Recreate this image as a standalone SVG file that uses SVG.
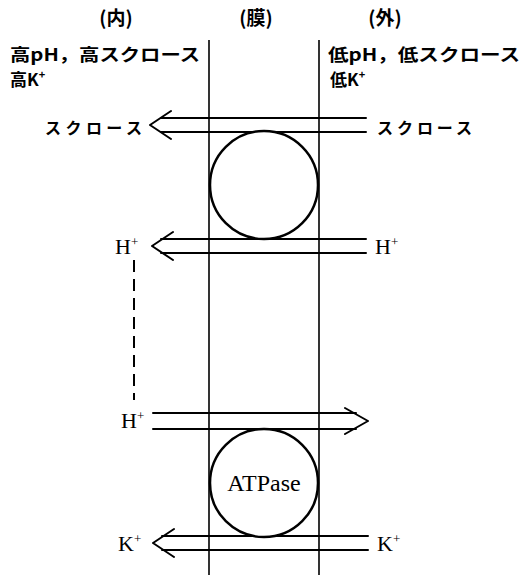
<svg xmlns="http://www.w3.org/2000/svg" width="523" height="575" viewBox="0 0 523 575">
<style>
.t{font-family:"Liberation Serif","Noto Sans CJK JP",serif;fill:#000}
.j{font-family:"Noto Sans CJK JP","Liberation Serif",sans-serif;font-weight:bold;fill:#000}
.ln{stroke:#000;stroke-width:1.6;fill:none}
.ar{stroke:#000;stroke-width:2;fill:none;stroke-linecap:round;stroke-linejoin:round}
.c{stroke:#000;stroke-width:2.5;fill:#fff}
</style>
<rect width="523" height="575" fill="#fff"/>
<g id="headers">
<text class="j" x="116" y="25" font-size="19" text-anchor="middle">(内)</text>
<text class="j" x="256" y="25" font-size="19" text-anchor="middle">(膜)</text>
<text class="j" x="385" y="25" font-size="19" text-anchor="middle">(外)</text>
</g>
<g id="inner-labels">
<text class="j" x="10" y="61" font-size="17" textLength="190" lengthAdjust="spacingAndGlyphs">高pH，高スクロース</text>
<text class="j" x="10" y="86" font-size="17">高K<tspan font-size="11" dy="-7">+</tspan></text>
</g>
<g id="outer-labels">
<text class="j" x="328" y="61" font-size="17" textLength="192" lengthAdjust="spacingAndGlyphs">低pH，低スクロース</text>
<text class="j" x="330" y="86" font-size="17">低K<tspan font-size="11" dy="-7">+</tspan></text>
</g>
<g id="membrane">
<line class="ln" x1="209" y1="40" x2="209" y2="575"/>
<line class="ln" x1="319" y1="40" x2="319" y2="575"/>
</g>
<g id="connectors">
<path class="ar" d="M161,118 H366 M161,132 H366 M171,111 L150,125 L171,139"/>
<path class="ar" d="M161,239 H366 M161,253 H366 M173,232 L152,246 L173,260"/>
<path class="ar" d="M153,413 H356 M153,429 H356 M345,408 L368,421 L345,434"/>
<path class="ar" d="M162,536 H368 M162,550 H368 M174,529 L153,543 L174,557"/>
<line x1="134" y1="260" x2="134" y2="400" stroke="#000" stroke-width="2" stroke-dasharray="12,7"/>
</g>
<g id="sucrose-transporter">
<circle class="c" cx="264" cy="185" r="54"/>
</g>
<g id="atpase">
<circle class="c" cx="264" cy="483" r="54"/>
<text class="t" x="264" y="491" font-size="24" text-anchor="middle">ATPase</text>
</g>
<g id="ion-labels">
<text class="j" x="45" y="134" font-size="16" textLength="97" lengthAdjust="spacing">スクロース</text>
<text class="j" x="377" y="134" font-size="16" textLength="95" lengthAdjust="spacing">スクロース</text>
<text class="t" x="115" y="254" font-size="22">H<tspan font-size="13" dy="-8">+</tspan></text>
<text class="t" x="375" y="254" font-size="22">H<tspan font-size="13" dy="-8">+</tspan></text>
<text class="t" x="121" y="428" font-size="22">H<tspan font-size="13" dy="-8">+</tspan></text>
<text class="t" x="118" y="551" font-size="22">K<tspan font-size="13" dy="-8">+</tspan></text>
<text class="t" x="377" y="551" font-size="22">K<tspan font-size="13" dy="-8">+</tspan></text>
</g>
</svg>
